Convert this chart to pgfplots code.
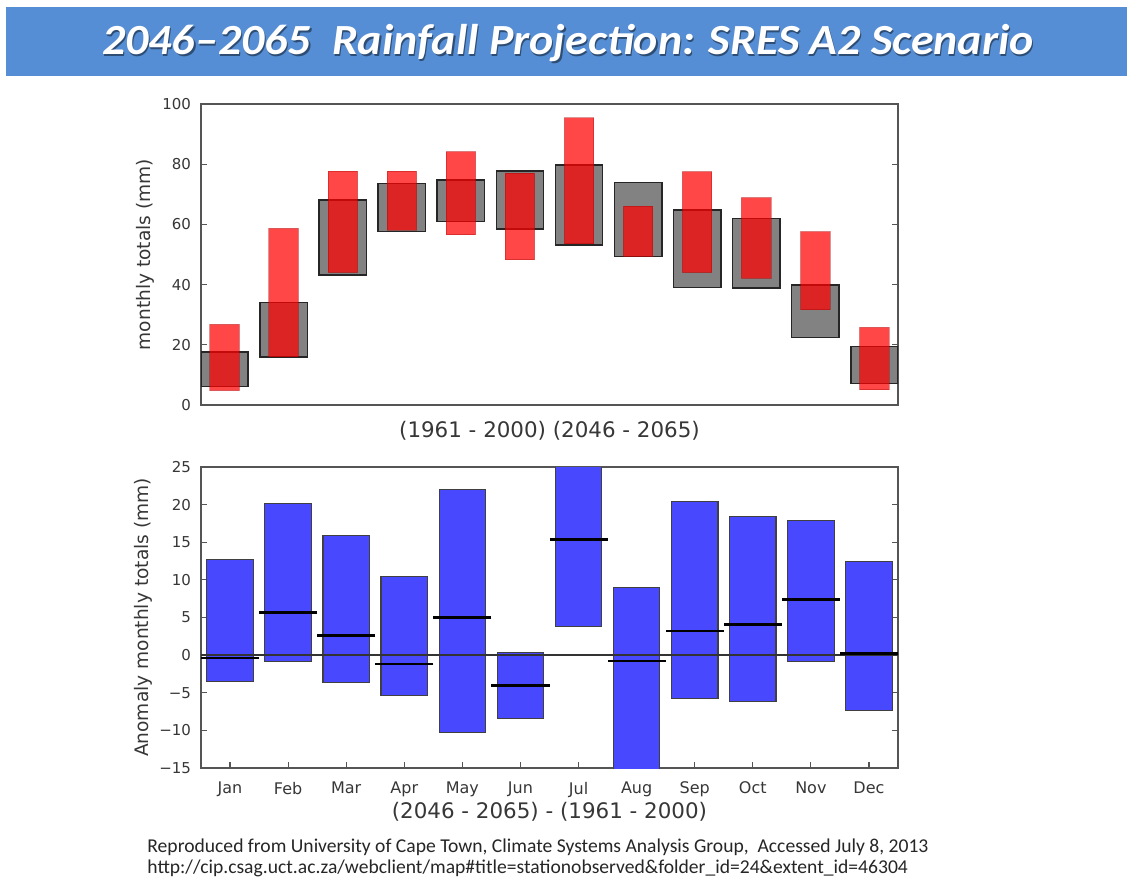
\documentclass[border=0pt]{standalone}
\usepackage{fontspec}
\setmainfont{DejaVu Sans}
\newfontfamily\carlito{Carlito}
\usepackage{pgfplots}
\usepackage{pgfplotstable}
\pgfplotsset{compat=1.18}
\definecolor{banner}{RGB}{85,142,213}
\definecolor{barblue}{RGB}{72,72,255}
\definecolor{axisgray}{RGB}{85,85,85}
\definecolor{labelgray}{RGB}{55,55,55}

% observed (gray) and projected (red) monthly totals, mm
\pgfplotstableread{
m glo ghi rlo rhi
0 6.1 17.7 4.8 26.8
1 16.0 34.1 16.0 58.7
2 43.2 68.1 44.0 77.7
3 57.6 73.6 58.1 77.7
4 60.9 74.7 56.5 84.2
5 58.4 77.8 48.2 77.0
6 53.2 79.7 53.5 95.4
7 49.3 73.9 49.3 66.1
8 39.0 64.8 44.0 77.5
9 38.8 62.0 42.1 68.9
10 22.4 39.9 31.6 57.6
11 7.2 19.4 5.0 25.8
}\topdata

% anomaly: low, high, median, mm
\pgfplotstableread{
m lo hi med
0 -3.5 12.7 -0.4
1 -0.8 20.2 5.7
2 -3.6 15.9 2.6
3 -5.4 10.5 -1.2
4 -10.3 22.0 5.0
5 -8.4 0.3 -4.0
6 3.8 30.0 15.4
7 -20.0 9.0 -0.8
8 -5.8 20.4 3.2
9 -6.2 18.4 4.1
10 -0.8 17.9 7.4
11 -7.4 12.4 0.2
}\botdata

\pgfplotsset{
  base/.style={
    scale only axis, width=348.5pt, height=150.5pt,
    anchor=south west,
    axis line style={axisgray, line width=1pt},
    tick style={axisgray, line width=0.6pt},
    tick align=inside,
    major tick length=3pt,
    /pgf/number format/assume math mode=true,
    tick label style={font=\fontsize{7.5}{8}\selectfont, text=labelgray},
    yticklabel style={xshift=-1.5pt},
    label style={text=labelgray},
  },
  over/.style={
    scale only axis, width=348.5pt, height=150.5pt,
    anchor=south west, hide axis,
  },
}

\begin{document}
\begin{tikzpicture}
\useasboundingbox (0,0) rectangle (563.5pt,441pt);
\fill[white] (0,0) rectangle (563.5pt,441pt);
\fill[banner] (2.85pt,403pt) rectangle (563.5pt,437.5pt);
\node[anchor=base, text=black, opacity=0.45, xscale=1.068] at (284.6pt,412.8pt)
  {\carlito\bfseries\itshape\fontsize{21.5}{24}\selectfont 2046–2065\ \ Rainfall Projection: SRES A2 Scenario};
\node[anchor=base, text=white, xscale=1.068] at (284pt,413.5pt)
  {\carlito\bfseries\itshape\fontsize{21.5}{24}\selectfont 2046–2065\ \ Rainfall Projection: SRES A2 Scenario};

% ---------- top panel ----------
\begin{axis}[base, at={(100.5pt,238.5pt)},
  ybar stacked,
  xmin=-0.4, xmax=11.4, ymin=0, ymax=100,
  xtick=\empty, ytick={0,20,...,100},
  ylabel={monthly totals (mm)},
  ylabel style={at={(axis description cs:-0.0803,0.5)}, anchor=center, font=\fontsize{9.3}{10}\selectfont},
  xlabel={(1961 - 2000) (2046 - 2065)},
  xlabel style={at={(axis description cs:0.5,-0.087)}, anchor=center, font=\fontsize{10.7}{12}\selectfont},
]
\addplot[bar width=0.8, draw=none, fill=none] table[x=m, y=glo]{\topdata};
\addplot[bar width=0.8, fill=gray!98, draw=black!85, line width=0.8pt]
  table[x=m, y expr=\thisrow{ghi}-\thisrow{glo}]{\topdata};
\end{axis}
\begin{axis}[over, at={(100.5pt,238.5pt)},
  ybar stacked,
  xmin=-0.4, xmax=11.4, ymin=0, ymax=100]
\addplot[bar width=0.5, draw=none, fill=none] table[x=m, y=rlo]{\topdata};
\addplot[bar width=0.5, fill=red, fill opacity=0.72, draw=red!60!black, draw opacity=0.35, line width=0.5pt]
  table[x=m, y expr=\thisrow{rhi}-\thisrow{rlo}]{\topdata};
\end{axis}

% ---------- bottom panel ----------
\begin{axis}[base, at={(100.5pt,57pt)},
  ybar stacked, stack negative=on previous,
  xmin=-0.5, xmax=11.5, ymin=-15, ymax=25,
  xtick={0,...,11}, xtick pos=left,
  xticklabels={Jan,Feb,Mar,Apr,May,Jun,Jul,Aug,Sep,Oct,Nov,Dec},
  xticklabel style={font=\fontsize{8}{9}\selectfont, yshift=-3.5pt},
  ytick={-15,-10,...,25},
  yticklabels={−15,−10,−5,0,5,10,15,20,25},
  ylabel={Anomaly monthly totals (mm)},
  ylabel style={at={(axis description cs:-0.0832,0.5)}, anchor=center, font=\fontsize{9.3}{10}\selectfont},
  xlabel={(2046 - 2065) - (1961 - 2000)},
  xlabel style={at={(axis description cs:0.5,-0.146)}, anchor=center, font=\fontsize{10.7}{12}\selectfont},
]
\addplot[bar width=0.8, draw=none, fill=none] table[x=m, y=lo]{\botdata};
\addplot[bar width=0.8, fill=barblue, draw=black!75, line width=0.6pt]
  table[x=m, y expr=\thisrow{hi}-\thisrow{lo}]{\botdata};
\end{axis}
\begin{axis}[over, at={(100.5pt,57pt)},
  xmin=-0.5, xmax=11.5, ymin=-15, ymax=25]
\addplot[black!80, line width=0.7pt] coordinates {(-0.5,0) (11.5,0)};
\addplot[only marks, mark=-, mark size=14.52pt, mark options={black, line width=1.3pt}]
  table[x=m, y=med]{\botdata};
\end{axis}

% ---------- footer ----------
\node[anchor=base west, text=black!85, inner sep=0pt] at (73.5pt,15pt)
  {\carlito\fontsize{9.8}{10}\selectfont Reproduced from University of Cape Town, Climate Systems Analysis Group,\ \ Accessed July 8, 2013};
\node[anchor=base west, text=black!85, inner sep=0pt] at (73.5pt,4.5pt)
  {\carlito\fontsize{9.8}{10}\selectfont http://cip.csag.uct.ac.za/webclient/map\#title=stationobserved\&folder\_id=24\&extent\_id=46304};
\end{tikzpicture}
\end{document}
